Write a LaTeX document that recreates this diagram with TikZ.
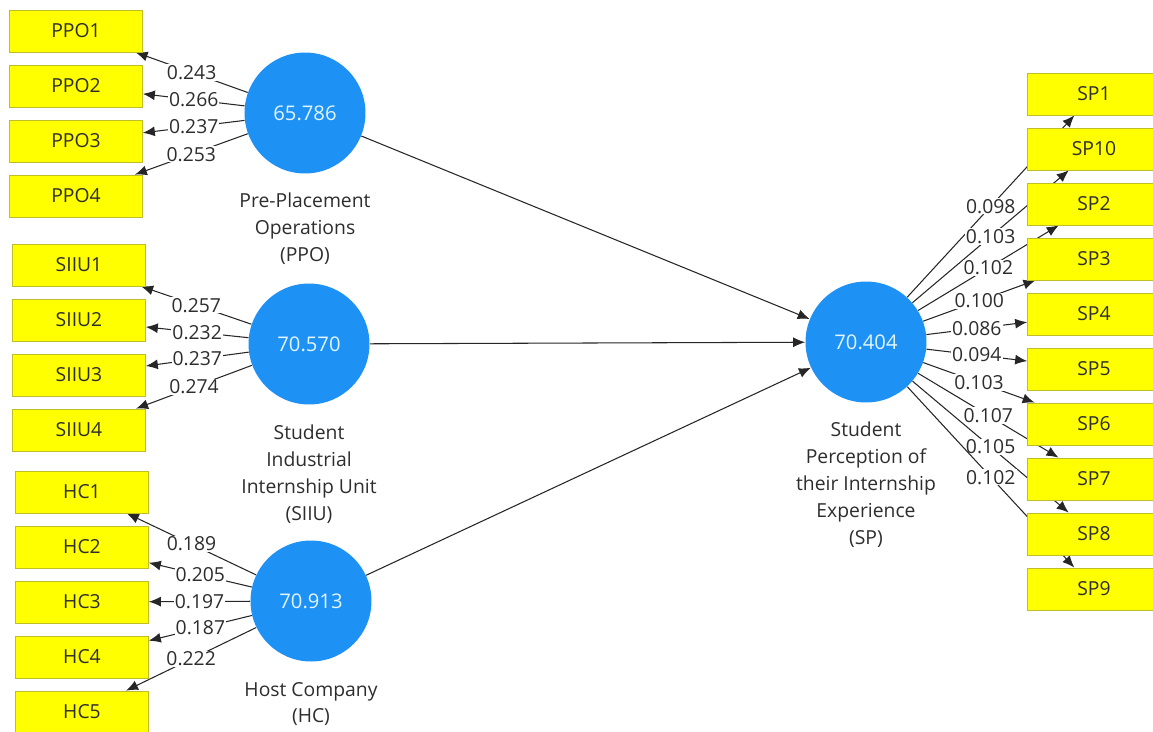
\documentclass[tikz,border=0pt]{standalone}
\usepackage{fontspec}
\setmainfont{Open Sans}
\usetikzlibrary{arrows.meta,positioning,backgrounds}
\definecolor{itemyellow}{RGB}{255,255,0}
\definecolor{itemedge}{RGB}{190,190,40}
\definecolor{lvblue}{RGB}{30,145,245}
\definecolor{lvtext}{RGB}{225,245,255}
\definecolor{inktext}{RGB}{45,45,45}

\begin{document}
\begin{tikzpicture}[x=0.02cm, y=-0.02cm, font=\fontsize{11}{15.3}\selectfont]
    \tikzset{
        item/.style={draw=itemedge, fill=itemyellow, text=inktext,
            minimum width=2.66cm, minimum height=0.84cm, inner sep=0pt},
        latent/.style={circle, fill=lvblue, text=lvtext,
            minimum size=2.42cm, inner sep=0pt, font=\fontsize{11.5}{14}\selectfont},
        caption/.style={align=center, text=inktext},
        loading/.style={-{Latex[length=2.4mm,width=2mm]}, line width=0.6pt, draw=black!85},
        wt/.style={fill=white, text=inktext, inner sep=0.6pt}
    }
    \useasboundingbox (0,0) rectangle (1153,731);

    % latent variables
    \node[latent] (ppo) at (305,113) {65.786};
    \node[latent] (siiu) at (309,344) {70.570};
    \node[latent] (hc) at (311,601) {70.913};
    \node[latent] (sp) at (866,342) {70.404};
    \node[caption, below=0.26cm of ppo] {Pre-Placement\\Operations\\(PPO)};
    \node[caption, below=0.28cm of siiu] {Student\\Industrial\\Internship Unit\\(SIIU)};
    \node[caption, below=0.28cm of hc] {Host Company\\(HC)};
    \node[caption, below=0.26cm of sp] {Student\\Perception of\\their Internship\\Experience\\(SP)};

    % indicators
    \node[item] (ppo1) at (76,31) {PPO1};
    \node[item] (ppo2) at ([yshift=-1.1cm] ppo1) {PPO2};
    \node[item] (ppo3) at ([yshift=-1.1cm] ppo2) {PPO3};
    \node[item] (ppo4) at ([yshift=-1.1cm] ppo3) {PPO4};
    \node[item] (siiu1) at (79,265) {SIIU1};
    \node[item] (siiu2) at ([yshift=-1.1cm] siiu1) {SIIU2};
    \node[item] (siiu3) at ([yshift=-1.1cm] siiu2) {SIIU3};
    \node[item] (siiu4) at ([yshift=-1.1cm] siiu3) {SIIU4};
    \node[item] (hc1) at (82,492) {HC1};
    \node[item] (hc2) at ([yshift=-1.1cm] hc1) {HC2};
    \node[item] (hc3) at ([yshift=-1.1cm] hc2) {HC3};
    \node[item] (hc4) at ([yshift=-1.1cm] hc3) {HC4};
    \node[item] (hc5) at ([yshift=-1.1cm] hc4) {HC5};
    \node[item] (sp1) at (1094,94) {SP1};
    \node[item] (sp10) at ([yshift=-1.1cm] sp1) {SP10};
    \node[item] (sp2) at ([yshift=-1.1cm] sp10) {SP2};
    \node[item] (sp3) at ([yshift=-1.1cm] sp2) {SP3};
    \node[item] (sp4) at ([yshift=-1.1cm] sp3) {SP4};
    \node[item] (sp5) at ([yshift=-1.1cm] sp4) {SP5};
    \node[item] (sp6) at ([yshift=-1.1cm] sp5) {SP6};
    \node[item] (sp7) at ([yshift=-1.1cm] sp6) {SP7};
    \node[item] (sp8) at ([yshift=-1.1cm] sp7) {SP8};
    \node[item] (sp9) at ([yshift=-1.1cm] sp8) {SP9};

    \begin{scope}[on background layer]
        % outer weights
        \draw[loading] (ppo) -- node[wt]{0.243} (ppo1);
        \draw[loading] (ppo) -- node[wt]{0.266} (ppo2);
        \draw[loading] (ppo) -- node[wt]{0.237} (ppo3);
        \draw[loading] (ppo) -- node[wt]{0.253} (ppo4);
        \draw[loading] (siiu) -- node[wt]{0.257} (siiu1);
        \draw[loading] (siiu) -- node[wt]{0.232} (siiu2);
        \draw[loading] (siiu) -- node[wt]{0.237} (siiu3);
        \draw[loading] (siiu) -- node[wt]{0.274} (siiu4);
        \draw[loading] (hc) -- node[wt]{0.189} (hc1);
        \draw[loading] (hc) -- node[wt]{0.205} (hc2);
        \draw[loading] (hc) -- node[wt]{0.197} (hc3);
        \draw[loading] (hc) -- node[wt]{0.187} (hc4);
        \draw[loading] (hc) -- node[wt]{0.222} (hc5);
        \draw[loading] (sp) -- node[wt]{0.098} (sp1);
        \draw[loading] (sp) -- node[wt]{0.103} (sp10);
        \draw[loading] (sp) -- node[wt]{0.102} (sp2);
        \draw[loading] (sp) -- node[wt]{0.100} (sp3);
        \draw[loading] (sp) -- node[wt]{0.086} (sp4);
        \draw[loading] (sp) -- node[wt]{0.094} (sp5);
        \draw[loading] (sp) -- node[wt]{0.103} (sp6);
        \draw[loading] (sp) -- node[wt]{0.107} (sp7);
        \draw[loading] (sp) -- node[wt]{0.105} (sp8);
        \draw[loading] (sp) -- node[wt]{0.102} (sp9);
        % inner model
        \draw[loading] (ppo) -- (sp);
        \draw[loading] (siiu) -- (sp);
        \draw[loading] (hc) -- (sp);
    \end{scope}
\end{tikzpicture}
\end{document}
